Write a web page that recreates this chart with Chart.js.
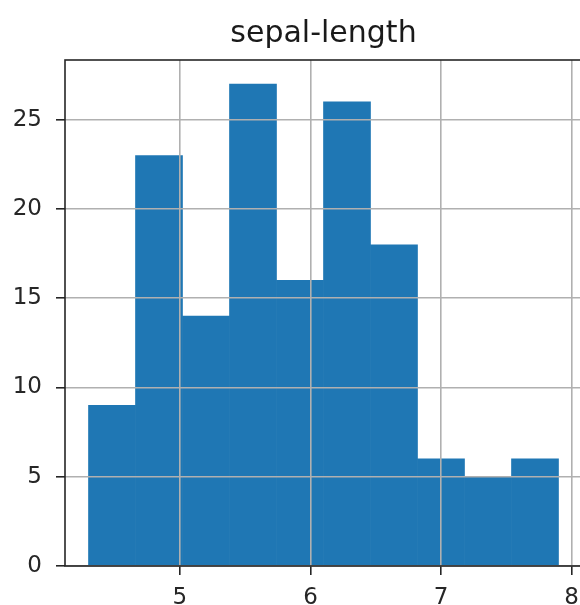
<!DOCTYPE html>
<html>
<head>
<meta charset="utf-8">
<title>sepal-length</title>
<script src="https://cdn.jsdelivr.net/npm/chart.js@4/dist/chart.umd.min.js"></script>
<style>
  html, body { margin: 0; padding: 0; background: #fff; overflow: hidden; }
  #wrap { width: 600px; height: 605px; }
</style>
</head>
<body>
<div id="wrap"><canvas id="hist" width="600" height="605"></canvas></div>
<script>
// histogram bins (10 equal bins from 4.3 to 7.9) and their counts
let binStart = 4.3;
let binWidth = 0.36;
let counts = [9, 23, 14, 27, 16, 26, 18, 6, 5, 6];

// axis ranges and tick values
let xRange = [4.12, 8.08];
let yRange = [0, 28.35];
let xTicks = [5, 6, 7, 8];
let yTicks = [0, 5, 10, 15, 20, 25];

// one point per bin, centred in the bin
let points = counts.map(function(c, i) {
    return { x: binStart + binWidth * (i + 0.5), y: c };
});

// dark frame around the plot area (all four sides)
let framePlugin = {
    id: 'frame',
    afterDraw: function(chart) {
        let a = chart.chartArea;
        let ctx = chart.ctx;
        ctx.save();
        ctx.strokeStyle = '#262626';
        ctx.lineWidth = 1.6;
        ctx.strokeRect(a.left, a.top, a.right - a.left, a.bottom - a.top);
        ctx.restore();
    }
};

let tickFont = { family: 'DejaVu Sans', size: 23 };

new Chart(document.getElementById('hist'), {
    type: 'bar',
    data: {
        datasets: [{
            data: points,
            backgroundColor: '#1f77b4',
            borderWidth: 0,
            barPercentage: 1,
            categoryPercentage: 1
        }]
    },
    options: {
        responsive: false,
        animation: false,
        layout: { padding: { left: 0, right: 18, top: 0, bottom: 0 } },
        plugins: {
            legend: { display: false },
            tooltip: { enabled: false },
            title: {
                display: true,
                text: 'sepal-length',
                fullSize: false,
                color: '#1a1a1a',
                font: { family: 'DejaVu Sans', size: 30, weight: 'normal', lineHeight: 1.2 },
                padding: { top: 16, bottom: 8 }
            }
        },
        scales: {
            x: {
                type: 'linear',
                offset: false,
                min: xRange[0],
                max: xRange[1],
                afterBuildTicks: function(scale) {
                    scale.ticks = xTicks.map(function(v) { return { value: v }; });
                },
                afterFit: function(scale) { scale.height = 39; },
                grid: {
                    z: 1,
                    offset: false,
                    color: '#b0b0b0',
                    lineWidth: 1.6,
                    tickColor: '#262626',
                    tickWidth: 1.6,
                    tickLength: 9
                },
                border: { display: false },
                ticks: {
                    color: '#262626',
                    font: tickFont,
                    padding: 9,
                    maxRotation: 0,
                    callback: function(v) { return v; }
                }
            },
            y: {
                type: 'linear',
                min: yRange[0],
                max: yRange[1],
                afterBuildTicks: function(scale) {
                    scale.ticks = yTicks.map(function(v) { return { value: v }; });
                },
                afterFit: function(scale) { scale.width = 65; },
                grid: {
                    z: 1,
                    color: '#b0b0b0',
                    lineWidth: 1.6,
                    tickColor: '#262626',
                    tickWidth: 1.6,
                    tickLength: 9
                },
                border: { display: false },
                ticks: {
                    color: '#262626',
                    font: tickFont,
                    padding: 14,
                    callback: function(v) { return v; }
                }
            }
        }
    },
    plugins: [framePlugin]
});
</script>
</body>
</html>
